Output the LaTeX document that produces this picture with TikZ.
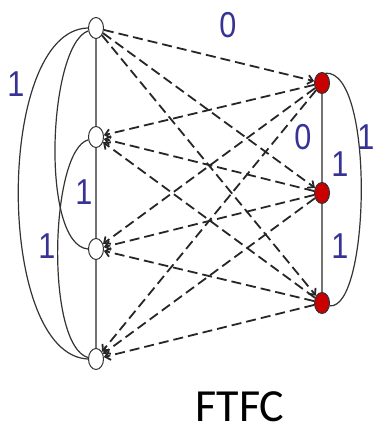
\documentclass[tikz,border=0pt]{standalone}
\usepackage{fontspec}
\setmainfont{Liberation Sans}
\newfontfamily\calibri{Carlito}
\usetikzlibrary{shapes.geometric,arrows.meta}
\definecolor{lblblue}{RGB}{55,50,150}
\definecolor{nodered}{RGB}{200,0,0}
\tikzset{
  wnode/.style={ellipse, draw=black!80, fill=white, line width=1pt, minimum width=15pt, minimum height=21pt, inner sep=0pt},
  rnode/.style={ellipse, draw=black!80, fill=nodered, line width=1pt, minimum width=15pt, minimum height=21pt, inner sep=0pt},
  vline/.style={draw=black!55, line width=2pt},
  curve/.style={draw=black!80, line width=1.2pt},
  dline/.style={draw=black!85, line width=1.8pt, dash pattern=on 10pt off 5pt, -{Straight Barb[length=5pt,width=9pt]}},
  lbl/.style={text=lblblue, font=\fontsize{36}{36}\selectfont, inner sep=0pt, xscale=0.85, transform shape},
}
\begin{document}
\begin{tikzpicture}[x=1pt,y=-1pt]
\useasboundingbox (0,0) rectangle (376,437);
% nodes
\node[wnode] (L1) at (96,28) {};
\node[wnode] (L2) at (96,137) {};
\node[wnode] (L3) at (96,249) {};
\node[wnode] (L4) at (96,359) {};
\node[rnode] (R1) at (322,83) {};
\node[rnode] (R2) at (322,193) {};
\node[rnode] (R3) at (322,303) {};
% vertical lines
\draw[vline] (L1) -- (L2);
\draw[vline] (L2) -- (L3);
\draw[vline] (L3) -- (L4);
\draw[vline] (R1) -- (R2);
\draw[vline] (R2) -- (R3);
% curves
\draw[curve] (L1.west) .. controls (-5,30) and (-5,355) .. (L4.west);
\draw[curve] (L1.200) .. controls (48,45) and (40,245) .. (L3.west);
\draw[curve] (L2.200) .. controls (50,150) and (45,345) .. (L4.170);
\draw[curve] (R1.70) .. controls (375,70) and (370,310) .. (R3.-20);
% dashed arrows
\foreach \r in {R1,R2,R3} {\draw[dline] (L1) -- (\r);}
\foreach \r in {R1,R2,R3} {\foreach \l in {L2,L3,L4} {\draw[dline] (\r) -- (\l);}}
% labels
\node[lbl] (a) at (228,25) {0};
\node[lbl] (b) at (16,84) {1};
\node[lbl] (c) at (84,192) {1};
\node[lbl] (d) at (47,246) {1};
\node[lbl] (e) at (303,137) {0};
\node[lbl] (f) at (340,164) {1};
\node[lbl] (g) at (366,137) {1};
\node[lbl] (h) at (340,246) {1};
\node[font=\calibri\fontsize{46}{46}\selectfont, inner sep=0pt] (t) at (240,407) {FTFC};
\end{tikzpicture}
\end{document}
